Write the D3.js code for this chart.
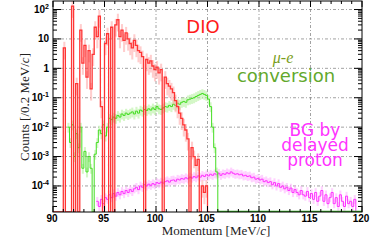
<!DOCTYPE html>
<html><head><meta charset="utf-8">
<script src="https://cdn.jsdelivr.net/npm/d3@7"></script>
<style>body{margin:0;background:#fff}svg{display:block}</style>
</head><body>
<svg id="c" width="373" height="250"></svg>
<script>
// ---- data (0.2 MeV/c bins; value = counts in bin starting at given edge) ----
const binWidth = 0.2;
const dioStart = 90.0;
const dioValues = [0,0,0,0,0, 5,0,0,0,130, 0,0.3,0,20,1.5, 6,0.5,4,0.2,3,
  25,12,60,0.05,0, 7,15,0,25,0, 30,45,12,20,9, 16,10,7,5,9,
  6,4,3.5,2.5,0, 2,1.5,1.8,1.2,0.9, 1.1,0.7,0.9,0,0.5, 0.3,0.25,0.2,0.15,0.08,
  0.05,0.03,0.02,0.012,0.008, 0.004,0,0.002,0.001,5e-4, 8e-4,0,1e-4,6e-5,1e-4, 0];
const convStart = 91.4;
const convValues = [0.01,0.003,0.012,0.001,0.006, 0.002,0.01,0.0004,0.0015,0.0003,
  0.001,0.0004,0,0.0012,0.003, 0.008,0.006,0.012,0.005,0.01,
  0.02,0.018,0.022,0.02,0.025, 0.022,0.028,0.025,0.03,0.027,
  0.03,0.033,0.028,0.035,0.03, 0.038,0.035,0.04,0.037,0.042,
  0.038,0.045,0.04,0.05,0.042, 0.04,0.045,0.05,0.048,0.055,
  0.05,0.06,0.055,0.065,0.06, 0.07,0.075,0.07,0.085,0.09,
  0.095,0.1,0.11,0.12,0.13, 0.14,0.13,0.12,0.09,0.05,
  0.01,0.002,0.0003,0];
const protStart = 94.2;
const protValues = [3e-5,2e-5,3.5e-5,2.5e-5,4e-5,3.5e-5,5e-5,4e-5,5.5e-5,4.5e-5,
  6e-5,5e-5,6.5e-5,5.5e-5,7e-5,6e-5,7.5e-5,6.5e-5,8e-5,9e-5,
  7.5e-5,1e-4,9e-5,1.1e-4,1e-4,1.15e-4,1.05e-4,1.2e-4,1.1e-4,1.3e-4,
  1.2e-4,1.35e-4,1.25e-4,1.4e-4,1.5e-4,1.35e-4,1.55e-4,1.6e-4,1.45e-4,1.7e-4,
  1.6e-4,1.8e-4,1.7e-4,1.9e-4,1.75e-4,2e-4,1.85e-4,2.1e-4,1.9e-4,2.2e-4,
  2e-4,2.3e-4,2.1e-4,2.4e-4,2.2e-4,2.5e-4,2.3e-4,2.6e-4,2.4e-4,2.7e-4,
  2.3e-4,2.6e-4,2.5e-4,2.8e-4,2.6e-4,3e-4,2.7e-4,2.5e-4,2.6e-4,2.4e-4,
  2.5e-4,2.2e-4,2.3e-4,2.1e-4,2.2e-4,1.9e-4,2e-4,1.7e-4,1.8e-4,1.6e-4,
  1.7e-4,1.4e-4,1.5e-4,1.3e-4,1.4e-4,1.1e-4,1.3e-4,1e-4,1.2e-4,9e-5,
  1e-4,8e-5,9e-5,7e-5,8.5e-5,6e-5,7.5e-5,6e-5,5e-5,7e-5,
  5e-5,4.5e-5,6.5e-5,4e-5,5.5e-5,3.5e-5,6e-5,3e-5,4.5e-5,7e-5,
  3e-5,5e-5,2.5e-5,4e-5,6e-5,2.5e-5,4e-5,2e-5,5e-5,3e-5,
  2e-5,4.5e-5,2.5e-5,3e-5,2e-5,3.5e-5,0];
const xTicks = [90,95,100,105,110,115,120];
const yTicks = [1e-4,1e-3,1e-2,1e-1,1,10,100];
const yTickLabels = [["10","-4"],["10","-3"],["10","-2"],["10","-1"],["1",""],["10",""],["10","2"]];
const labels = {dio:"DIO", mu:"\u03bc-e", conv:"conversion", bg:["BG by","delayed","proton"]};

// ---- layout ----
const L=53, R=362, T=1, B=212;
const svg=d3.select("#c");
const x=d3.scaleLinear().domain([90,120]).range([L,R]);
const y=d3.scaleLog().domain([1.3e-5,195]).range([B,T]).clamp(true);
const yMin=1.3e-5;

// grid
const grid=svg.append("g").attr("stroke","#8a8a8a").attr("stroke-width",0.8).attr("stroke-dasharray","3,2,1,2");
xTicks.filter(v=>v>90&&v<120).forEach(v=>grid.append("line").attr("x1",x(v)).attr("x2",x(v)).attr("y1",T).attr("y2",B));
yTicks.forEach(v=>grid.append("line").attr("x1",L).attr("x2",R).attr("y1",y(v)).attr("y2",y(v)));

const defs=svg.append("defs");
defs.append("clipPath").attr("id","clip").append("rect").attr("x",L).attr("y",T).attr("width",R-L).attr("height",B-T);
const plot=svg.append("g").attr("clip-path","url(#clip)");

function bins(start,vals,padTo){
  const out=vals.map((v,i)=>({x0:start+i*binWidth,v}));
  if(padTo!==undefined){let e=start+vals.length*binWidth;while(e<padTo-1e-6){out.push({x0:e,v:0});e+=binWidth;}}
  return out;
}
function drawHist(data,color,band,bandOp,lo,hi,sw){
  plot.append("g").selectAll("rect").data(data.filter(d=>d.v>0)).join("rect")
    .attr("x",d=>x(d.x0)).attr("width",d=>x(d.x0+binWidth)-x(d.x0))
    .attr("y",d=>y(d.v*hi)).attr("height",d=>y(d.v*lo)-y(d.v*hi))
    .attr("fill",band).attr("opacity",bandOp);
  const pts=[];
  data.forEach(d=>{const yy=y(d.v>0?d.v:yMin/10);pts.push([x(d.x0),yy]);});
  const last=data[data.length-1];
  pts.push([x(last.x0+binWidth),y(last.v>0?last.v:yMin/10)]);
  plot.append("path").attr("d",d3.line().curve(d3.curveStepAfter)(pts))
    .attr("fill","none").attr("stroke",color).attr("stroke-width",sw);
}
drawHist(bins(protStart,protValues),"#ff33ff","#ff99ff",0.45,0.7,1.4,1);
drawHist(bins(convStart,convValues,120),"#44dd22","#aaf090",0.5,0.65,1.4,1);
drawHist(bins(dioStart,dioValues),"#ff3535","#ff9090",0.45,0.4,1.6,1.3);
// green baseline along bottom
plot.append("line").attr("x1",x(106)).attr("x2",R).attr("y1",B-0.5).attr("y2",B-0.5).attr("stroke","#33aa22").attr("stroke-width",1.5);

// frame & ticks
const ax=svg.append("g").attr("stroke","#000");
ax.append("rect").attr("x",L).attr("y",T).attr("width",R-L).attr("height",B-T).attr("fill","none").attr("stroke-width",1);
for(let v=90;v<=120;v++){
  const len=(v%5===0)?6:3;
  ax.append("line").attr("x1",x(v)).attr("x2",x(v)).attr("y1",B).attr("y2",B-len);
  ax.append("line").attr("x1",x(v)).attr("x2",x(v)).attr("y1",T).attr("y2",T+len);
}
for(let e=-5;e<=2;e++){
  for(let m=1;m<=9;m++){
    const v=m*Math.pow(10,e);
    if(v<yMin||v>195) continue;
    const len=(m===1)?8:4;
    ax.append("line").attr("x1",L).attr("x2",L+len).attr("y1",y(v)).attr("y2",y(v));
    ax.append("line").attr("x1",R).attr("x2",R-len).attr("y1",y(v)).attr("y2",y(v));
  }
}

// tick labels
const tl=svg.append("g").attr("font-family","Liberation Sans, Arial, sans-serif").attr("font-weight","bold").attr("fill","#000");
xTicks.forEach(v=>tl.append("text").attr("x",x(v)-1).attr("y",222).attr("text-anchor","middle").attr("font-size",10).text(v));
yTicks.forEach((v,i)=>{
  const t=tl.append("text").attr("x",49).attr("y",y(v)+3.5).attr("text-anchor","end").attr("font-size",10);
  t.append("tspan").text(yTickLabels[i][0]);
  if(yTickLabels[i][1]) t.append("tspan").attr("font-size",7).attr("dy",-4).text(yTickLabels[i][1]);
});

// axis titles
svg.append("text").attr("x",216).attr("y",235).attr("text-anchor","middle")
  .attr("font-family","Liberation Serif, Times New Roman, serif").attr("font-size",13).attr("fill","#222")
  .html('Momentum [MeV/<tspan font-style="italic">c</tspan>]');
svg.append("text").attr("transform","translate(29,107) rotate(-90)").attr("text-anchor","middle")
  .attr("font-family","Liberation Serif, Times New Roman, serif").attr("font-size",13).attr("fill","#222")
  .html('Counts [/0.2 MeV/<tspan font-style="italic">c</tspan>]');

// annotations
const an=svg.append("g").attr("font-family","DejaVu Sans, Verdana, sans-serif").attr("text-anchor","middle");
an.append("text").attr("x",203).attr("y",33).attr("font-size",18).attr("fill","#ff1a1a").text(labels.dio);
an.append("text").attr("x",283).attr("y",63).attr("font-size",16).attr("font-family","Liberation Serif, serif").attr("font-style","italic").attr("fill","#7a9e22").text(labels.mu);
an.append("text").attr("x",286).attr("y",82).attr("font-size",18).attr("fill","#62a82c").text(labels.conv);
const bg=an.append("text").attr("x",315).attr("y",136).attr("font-size",17).attr("fill","#ff33ff");
labels.bg.forEach((s,i)=>bg.append("tspan").attr("x",315).attr("dy",i===0?0:15).text(s));
</script>
</body></html>
